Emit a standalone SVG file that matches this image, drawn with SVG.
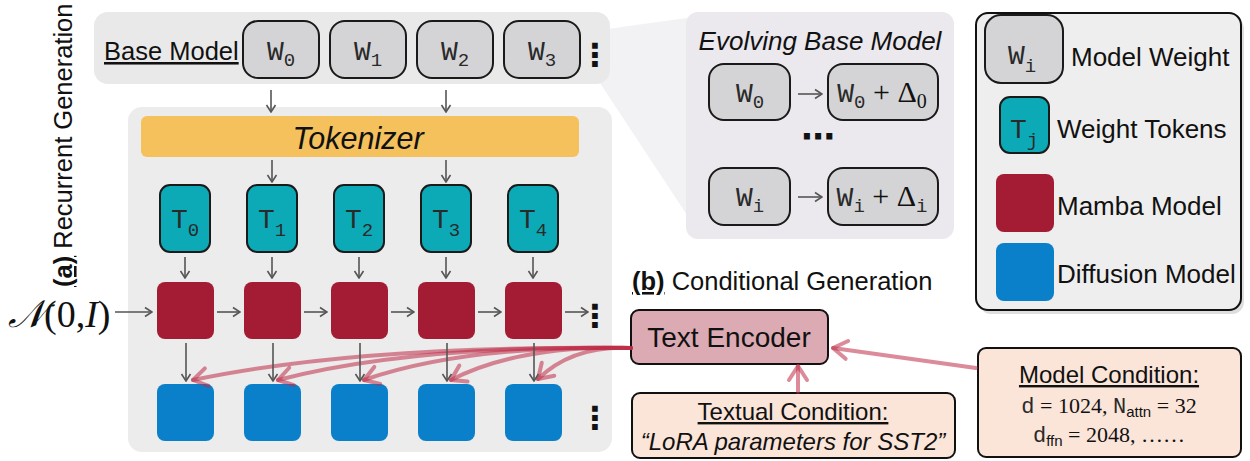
<svg xmlns="http://www.w3.org/2000/svg" width="1250" height="461" viewBox="0 0 1250 461">
<defs>
<style>
.sans{font-family:"Liberation Sans",Arial,sans-serif;fill:#111}
.mono{font-family:"Liberation Mono","DejaVu Sans Mono",monospace;fill:#2a2a2a}
.serif{font-family:"Liberation Serif","DejaVu Serif",serif;fill:#111}
.wbox{fill:#d4d4d6;stroke:#1a1a1a;stroke-width:2}
.tbox{fill:#0caab7;stroke:#1a1a1a;stroke-width:2}
.red{fill:#a41c34}
.blue{fill:#0a7fca}
.gl{stroke:#555;stroke-width:1.6;fill:none;marker-end:url(#ga)}
.pk{stroke:#bd2c47;stroke-opacity:0.55;stroke-width:4;fill:none;marker-end:url(#pa);stroke-linecap:round}
.dots{font-family:"DejaVu Sans",sans-serif;font-weight:bold;fill:#111}
</style>
<marker id="ga" markerUnits="userSpaceOnUse" markerWidth="12" markerHeight="12" viewBox="0 0 12 12" refX="11" refY="6" orient="auto">
<path d="M4,1.5 L11,6 L4,10.5" fill="none" stroke="#555" stroke-width="1.6"/>
</marker>
<marker id="pa" markerUnits="userSpaceOnUse" markerWidth="26" markerHeight="26" viewBox="0 0 26 26" refX="22" refY="13" orient="auto">
<path d="M8,4 L22,13 L8,22" fill="none" stroke="#bd2c47" stroke-opacity="0.55" stroke-width="4" stroke-linejoin="round" stroke-linecap="round"/>
</marker>
</defs>

<!-- fan / zoom-in shape -->
<polygon points="600,30 687,18 687,215 600,83" fill="#f2f1f4"/>

<g id="label-a">
<text class="sans" font-size="25.5" transform="translate(72,287) rotate(-90)"><tspan font-weight="bold" text-decoration="underline">(a)</tspan> Recurrent Generation</text>
</g>

<g id="base-model">
<rect x="94" y="12" width="516" height="72" rx="14" fill="#e9e9e9"/>
<text class="sans" x="104" y="60" font-size="25.5" text-decoration="underline">Base Model</text>
<text class="dots" x="595" y="66" font-size="32" text-anchor="middle">⋮</text>
</g>
<g id="w0"><rect class="wbox" x="243" y="21" width="76" height="57" rx="15"/><text class="mono" x="281" y="60" font-size="28" text-anchor="middle">W<tspan font-size="19" dy="6">0</tspan></text></g>
<g id="w1"><rect class="wbox" x="330" y="21" width="76" height="57" rx="15"/><text class="mono" x="368" y="60" font-size="28" text-anchor="middle">W<tspan font-size="19" dy="6">1</tspan></text></g>
<g id="w2"><rect class="wbox" x="417" y="21" width="76" height="57" rx="15"/><text class="mono" x="455" y="60" font-size="28" text-anchor="middle">W<tspan font-size="19" dy="6">2</tspan></text></g>
<g id="w3"><rect class="wbox" x="504" y="21" width="76" height="57" rx="15"/><text class="mono" x="542" y="60" font-size="28" text-anchor="middle">W<tspan font-size="19" dy="6">3</tspan></text></g>

<g id="main-panel">
<rect x="128" y="107" width="484" height="345" rx="14" fill="#ececec"/>
<text class="dots" x="595" y="327" font-size="32" text-anchor="middle">⋮</text>
<text class="dots" x="595" y="429" font-size="32" text-anchor="middle">⋮</text>
</g>

<g id="tokenizer">
<rect x="141" y="116" width="438" height="41" rx="6" fill="#f4c15d"/>
<text class="sans" x="358" y="149" font-size="30.5" font-style="italic" text-anchor="middle">Tokenizer</text>
</g>

<g id="t0"><rect class="tbox" x="160" y="185" width="50" height="67" rx="10"/><text class="mono" x="185" y="228" font-size="28" text-anchor="middle">T<tspan font-size="19" dy="8">0</tspan></text></g>
<g id="t1"><rect class="tbox" x="247" y="185" width="50" height="67" rx="10"/><text class="mono" x="272" y="228" font-size="28" text-anchor="middle">T<tspan font-size="19" dy="8">1</tspan></text></g>
<g id="t2"><rect class="tbox" x="334" y="185" width="50" height="67" rx="10"/><text class="mono" x="359" y="228" font-size="28" text-anchor="middle">T<tspan font-size="19" dy="8">2</tspan></text></g>
<g id="t3"><rect class="tbox" x="421" y="185" width="50" height="67" rx="10"/><text class="mono" x="446" y="228" font-size="28" text-anchor="middle">T<tspan font-size="19" dy="8">3</tspan></text></g>
<g id="t4"><rect class="tbox" x="508" y="185" width="50" height="67" rx="10"/><text class="mono" x="533" y="228" font-size="28" text-anchor="middle">T<tspan font-size="19" dy="8">4</tspan></text></g>

<g id="m0"><rect class="red" x="157" y="282" width="57" height="57" rx="8"/></g>
<g id="m1"><rect class="red" x="244" y="282" width="57" height="57" rx="8"/></g>
<g id="m2"><rect class="red" x="331" y="282" width="57" height="57" rx="8"/></g>
<g id="m3"><rect class="red" x="418" y="282" width="57" height="57" rx="8"/></g>
<g id="m4"><rect class="red" x="505" y="282" width="57" height="57" rx="8"/></g>

<g id="d0"><rect class="blue" x="157" y="384" width="57" height="57" rx="8"/></g>
<g id="d1"><rect class="blue" x="244" y="384" width="57" height="57" rx="8"/></g>
<g id="d2"><rect class="blue" x="331" y="384" width="57" height="57" rx="8"/></g>
<g id="d3"><rect class="blue" x="418" y="384" width="57" height="57" rx="8"/></g>
<g id="d4"><rect class="blue" x="505" y="384" width="57" height="57" rx="8"/></g>

<g id="noise">
<text class="serif" x="8" y="327" font-size="38"><tspan font-style="italic">𝒩</tspan>(0,<tspan font-style="italic">I</tspan>)</text>
</g>

<g id="evolving">
<rect x="686" y="12" width="268" height="227" rx="12" fill="#ebe8ee"/>
<text class="sans" x="820" y="50" font-size="26" font-style="italic" text-anchor="middle">Evolving Base Model</text>
<rect class="wbox" x="709" y="64" width="81" height="56" rx="15"/>
<text class="mono" x="750" y="102" font-size="28" text-anchor="middle">W<tspan font-size="19" dy="6">0</tspan></text>
<rect class="wbox" x="828" y="64" width="110" height="56" rx="15"/>
<text class="mono" x="882" y="102" font-size="28" text-anchor="middle">W<tspan font-size="19" dy="6">0</tspan><tspan class="serif" font-size="30" dy="-6"> + Δ</tspan><tspan class="serif" font-size="20" dy="6">0</tspan></text>
<text class="dots" x="818" y="148" font-size="34" text-anchor="middle">⋯</text>
<rect class="wbox" x="709" y="168" width="81" height="57" rx="15"/>
<text class="mono" x="750" y="206" font-size="28" text-anchor="middle">W<tspan font-size="19" dy="6">i</tspan></text>
<rect class="wbox" x="828" y="168" width="110" height="57" rx="15"/>
<text class="mono" x="882" y="206" font-size="28" text-anchor="middle">W<tspan font-size="19" dy="6">i</tspan><tspan class="serif" font-size="30" dy="-6"> + Δ</tspan><tspan class="mono" font-size="19" dy="6">i</tspan></text>
</g>

<g id="legend">
<rect x="979" y="17" width="265" height="297" rx="12" fill="#dedede"/>
<rect x="976" y="13" width="265" height="297" rx="12" fill="#eeeeee" stroke="#111" stroke-width="2"/>
<rect class="wbox" x="985" y="15" width="78" height="68" rx="16"/>
<text class="mono" x="1022" y="64" font-size="28" text-anchor="middle">W<tspan font-size="19" dy="8">i</tspan></text>
<text class="sans" x="1071" y="66" font-size="26">Model Weight</text>
<rect class="tbox" x="1000" y="97" width="49" height="56" rx="10"/>
<text class="mono" x="1024" y="138" font-size="28" text-anchor="middle">T<tspan font-size="19" dy="8">j</tspan></text>
<text class="sans" x="1057" y="138" font-size="26">Weight Tokens</text>
<rect class="red" x="996" y="174" width="58" height="58" rx="8"/>
<text class="sans" x="1057" y="215" font-size="26">Mamba Model</text>
<rect class="blue" x="996" y="243" width="58" height="58" rx="8"/>
<text class="sans" x="1057" y="283" font-size="26">Diffusion Model</text>
</g>

<g id="label-b">
<text class="sans" x="632" y="290" font-size="25.5"><tspan font-weight="bold" text-decoration="underline">(b)</tspan> Conditional Generation</text>
</g>

<g id="text-encoder">
<rect x="631" y="310" width="197" height="54" rx="8" fill="#dcaab2" stroke="#111" stroke-width="2"/>
<text class="sans" x="729" y="347" font-size="28" text-anchor="middle">Text Encoder</text>
</g>

<g id="textual-condition">
<rect x="632" y="393" width="323" height="65" rx="8" fill="#fbe5d9" stroke="#111" stroke-width="2"/>
<text class="sans" x="793" y="420" font-size="24" text-anchor="middle" text-decoration="underline">Textual Condition:</text>
<text class="sans" x="793" y="450" font-size="24" text-anchor="middle" font-style="italic">“LoRA parameters for SST2”</text>
</g>

<g id="model-condition">
<rect x="978" y="348" width="263" height="109" rx="8" fill="#fbe5d9" stroke="#111" stroke-width="2"/>
<text class="sans" x="1109" y="383" font-size="24" text-anchor="middle" text-decoration="underline">Model Condition:</text>
<text class="serif" x="1109" y="413" font-size="22" text-anchor="middle"><tspan class="mono">d</tspan> = 1024, <tspan class="mono">N</tspan><tspan class="sans" font-size="15" dy="4">attn</tspan><tspan dy="-4"> = 32</tspan></text>
<text class="serif" x="1109" y="442" font-size="22" text-anchor="middle"><tspan class="mono">d</tspan><tspan class="sans" font-size="15" dy="4">ffn</tspan><tspan dy="-4"> = 2048, ……</tspan></text>
</g>

<g id="connectors">
<line class="gl" x1="271" y1="90" x2="271" y2="112"/>
<line class="gl" x1="446" y1="90" x2="446" y2="112"/>
<line class="gl" x1="272" y1="160" x2="272" y2="182"/>
<line class="gl" x1="446" y1="160" x2="446" y2="182"/>
<line class="gl" x1="185" y1="257" x2="185" y2="278"/>
<line class="gl" x1="272" y1="257" x2="272" y2="278"/>
<line class="gl" x1="359" y1="257" x2="359" y2="278"/>
<line class="gl" x1="446" y1="257" x2="446" y2="278"/>
<line class="gl" x1="533" y1="257" x2="533" y2="278"/>
<line class="gl" x1="115" y1="312" x2="152" y2="312"/>
<line class="gl" x1="217" y1="312" x2="240" y2="312"/>
<line class="gl" x1="304" y1="312" x2="327" y2="312"/>
<line class="gl" x1="391" y1="312" x2="414" y2="312"/>
<line class="gl" x1="478" y1="312" x2="501" y2="312"/>
<line class="gl" x1="565" y1="312" x2="588" y2="312"/>
<line class="gl" x1="798" y1="94" x2="822" y2="94"/>
<line class="gl" x1="798" y1="197" x2="822" y2="197"/>
<path class="pk" d="M631,348 Q360,345 193,380"/>
<path class="pk" d="M631,348 Q412,345 278,380"/>
<path class="pk" d="M631,348 Q465,345 364,380"/>
<path class="pk" d="M631,348 Q519,345 451,380"/>
<path class="pk" d="M631,348 Q573,345 538,379"/>
<line class="gl" x1="186" y1="343" x2="186" y2="381"/>
<line class="gl" x1="273" y1="343" x2="273" y2="381"/>
<line class="gl" x1="360" y1="343" x2="360" y2="381"/>
<line class="gl" x1="447" y1="343" x2="447" y2="381"/>
<line class="gl" x1="534" y1="343" x2="534" y2="381"/>
<line class="pk" x1="976" y1="368" x2="833" y2="348"/>
<line class="pk" x1="798" y1="392" x2="798" y2="366"/>
</g>
</svg>
